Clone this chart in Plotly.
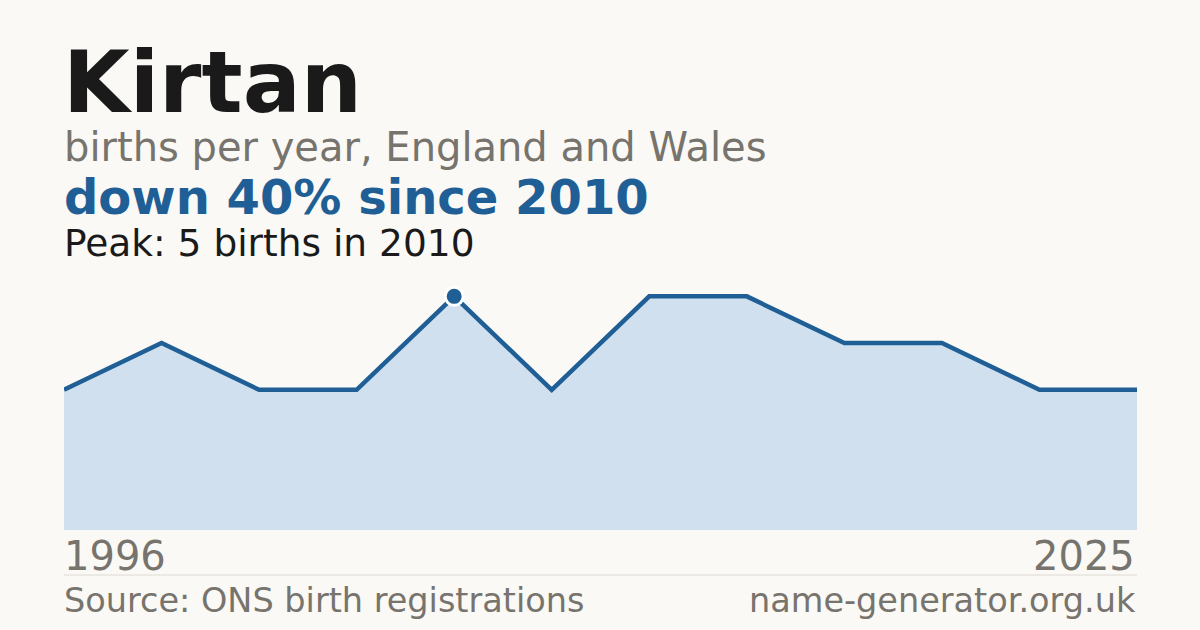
import plotly.graph_objects as go

years = ["1996", "1999", "2002", "2005", "2010", "2012",
         "2014", "2016", "2018", "2020", "2022", "2025"]
births = [3, 4, 3, 3, 5, 3, 5, 5, 4, 4, 3, 3]

name = "Kirtan"
subtitle = "births per year, England and Wales"
headline = "down 40% since 2010"
peak_note = "Peak: 5 births in 2010"
source = "Source: ONS birth registrations"
site = "name-generator.org.uk"

BG = "#faf9f5"
BLUE = "#1f5f96"
FILL = "#d0e0ef"
GREY = "#77736d"
DARK = "#1a1a1a"
FONT = "DejaVu Sans"

peak_i = births.index(max(births))

W, H = 1200, 630
left, right = 64, 1137
top, bottom = 273, 530  # plot area in px


def px(pix):
    return (pix - left) / (right - left)


def py(pix):
    # pixel row -> paper y
    return (bottom - pix) / (bottom - top)


fig = go.Figure()

fig.add_trace(go.Scatter(
    x=years, y=births, mode="lines",
    line=dict(color=BLUE, width=4.5),
    fill="tozeroy", fillcolor=FILL,
    hoverinfo="skip", showlegend=False,
))

fig.add_trace(go.Scatter(
    x=[years[peak_i]], y=[births[peak_i]], mode="markers",
    marker=dict(color=BLUE, size=18, line=dict(color="white", width=3)),
    cliponaxis=False, hoverinfo="skip", showlegend=False,
))

texts = [
    (name, 62, 82, "left", dict(size=86, color=DARK, family=FONT, weight="bold")),
    (subtitle, 63, 147, "left", dict(size=40, color=GREY, family=FONT)),
    (headline, 63, 197, "left", dict(size=48, color=BLUE, family=FONT, weight="bold")),
    (peak_note, 63, 243, "left", dict(size=37.5, color=DARK, family=FONT)),
    (years[0], 63, 556, "left", dict(size=40, color=GREY, family=FONT)),
    (years[-1], 1136, 556, "right", dict(size=40, color=GREY, family=FONT)),
    (source, 63, 600, "left", dict(size=33.5, color=GREY, family=FONT)),
    (site, 1137, 600, "right", dict(size=33.5, color=GREY, family=FONT)),
]
for t, xp, yp, anchor, f in texts:
    fig.add_annotation(
        text=t, xref="paper", yref="paper",
        x=px(xp), y=py(yp),
        xanchor=anchor, yanchor="middle", showarrow=False,
        font=f, borderpad=0,
    )

fig.add_shape(type="line", xref="paper", yref="paper",
              x0=0, x1=1, y0=py(575), y1=py(575),
              line=dict(color="#dddad4", width=1))

fig.update_xaxes(type="category", range=[0, len(years) - 1],
                 visible=False, showgrid=False)
fig.update_yaxes(range=[0, 5.5], visible=False, showgrid=False)

fig.update_layout(
    width=W, height=H,
    margin=dict(l=left, r=W - right, t=top, b=H - bottom),
    paper_bgcolor=BG, plot_bgcolor=BG,
    showlegend=False,
)

fig.write_html(
    "out.html",
    config={"displayModeBar": False},
    post_script="document.body.style.margin='0';"
                "document.body.style.background='" + BG + "';",
)
